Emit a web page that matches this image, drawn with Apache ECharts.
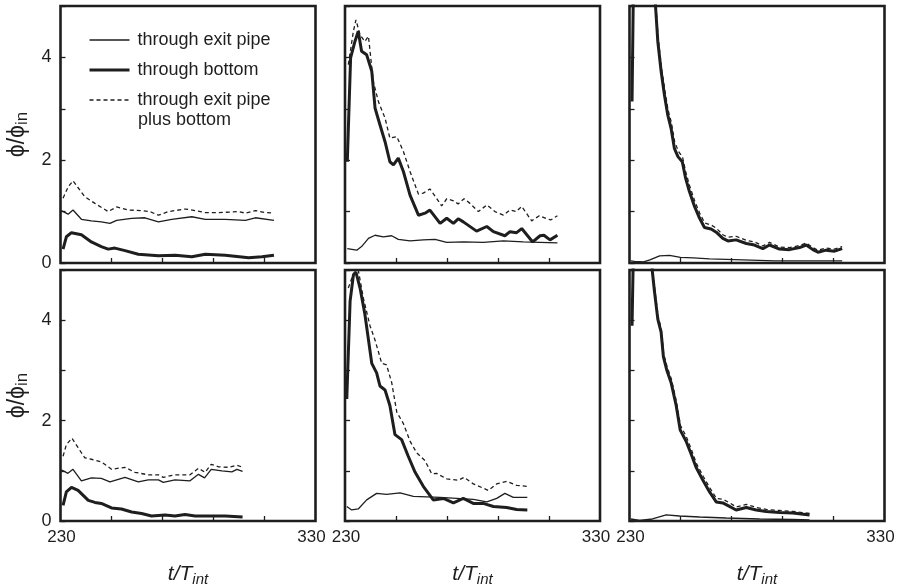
<!DOCTYPE html>
<html><head><meta charset="utf-8">
<script src="https://cdn.jsdelivr.net/npm/echarts@6/dist/echarts.min.js"></script>
<style>html,body{margin:0;padding:0;background:#fff}#c{width:898px;height:588px}</style>
</head><body><div id="c"></div>
<script>
// ---- tick / label values ----
const xTickValues = [250, 270, 290, 310];
const xLabelValues = [230, 330];
const yLabelValues = [0, 2, 4];
const seriesNames = ['through exit pipe', 'through bottom', 'through exit pipe plus bottom'];

// ---- top-left panel ----
const exitA1 = [[230.3,1.02],[233,0.95],[234.9,1.03],[238.2,0.85],[242.1,0.82],[246,0.80],[249.4,0.77],[252,0.83],[257.9,0.87],[263.1,0.88],[268.4,0.80],[273.6,0.85],[281.5,0.90],[286.8,0.85],[294.6,0.85],[302.5,0.83],[306.4,0.88],[313.7,0.83]];
const bottomA1 = [[231,0.27],[232.3,0.51],[234.3,0.59],[238.2,0.55],[242.1,0.41],[246,0.32],[248.7,0.27],[251.3,0.29],[255.3,0.24],[260.5,0.17],[268.4,0.14],[275,0.15],[281.5,0.12],[286.8,0.17],[294.6,0.15],[303.8,0.10],[309,0.12],[313.7,0.15]];
const totalA1 = [[231,1.26],[233,1.48],[234.9,1.6],[239.5,1.29],[243.5,1.16],[248.7,1.0],[252,1.09],[256.6,1.03],[261.8,1.02],[265,1.0],[268.4,0.93],[272.3,1.0],[279,1.05],[282.8,1.02],[286.8,0.98],[292,0.98],[299.9,1.0],[302.5,0.97],[306.4,1.02],[310.4,0.98],[313.7,0.97]];

// ---- top-middle panel ----
const exitA2 = [[230.9,0.28],[234.6,0.25],[236.5,0.32],[239.2,0.48],[241.8,0.54],[245,0.51],[248.3,0.53],[250.9,0.46],[255.5,0.43],[260.7,0.45],[265.3,0.46],[269.9,0.40],[276.4,0.41],[284.2,0.40],[292.1,0.43],[299.9,0.41],[306.5,0.40],[313.3,0.39]];
const bottomA2 = [[230.9,1.97],[232.2,3.99],[233.9,4.31],[235.2,4.51],[236.5,4.12],[238.5,4.05],[240.5,3.73],[241.8,3.01],[243.7,2.69],[245.7,2.36],[247.6,1.97],[249,1.91],[250.9,2.04],[252.9,1.78],[255.5,1.32],[258.8,0.93],[261.4,0.97],[263.3,1.03],[267.3,0.77],[269.9,0.87],[272.5,0.77],[274.4,0.86],[276.4,0.80],[281.6,0.62],[285.6,0.71],[288.2,0.61],[292.7,0.53],[294.7,0.61],[297.3,0.59],[299.3,0.67],[303.6,0.41],[306.5,0.53],[308,0.54],[310.4,0.45],[313.3,0.54]];
const totalA2 = [[231.3,3.86],[233.3,4.51],[234.3,4.73],[235.9,4.44],[237.8,4.31],[239.2,4.41],[241.1,3.53],[243.1,3.14],[245.7,2.82],[247.6,2.43],[250.3,2.46],[252.9,2.17],[255.5,1.78],[258.8,1.34],[260.7,1.36],[263.3,1.44],[265.9,1.26],[267.9,1.11],[269.9,1.25],[272.5,1.21],[274.4,1.15],[276.7,1.25],[279,1.16],[282.3,1.00],[285.6,1.13],[288.8,1.00],[292.1,0.93],[294.7,1.03],[297.1,1.00],[299.3,1.10],[303.2,0.82],[306.2,0.92],[309.1,0.86],[310.8,0.84],[313.3,0.92]];

// ---- top-right panel ----
const exitA3 = [[230.5,0.04],[232,0.03],[235.5,0.02],[238,0.06],[241.8,0.14],[245.7,0.15],[250,0.11],[255,0.10],[261.4,0.08],[274.4,0.06],[287,0.04],[300,0.04],[313.4,0.04]];
const bottomA3 = [[231,3.14],[231.8,6.5],[234,8.2],[237,7.6],[240.2,5.0],[241.1,4.31],[242.4,3.73],[243.7,3.27],[245,2.88],[246.3,2.62],[247.6,2.23],[249,2.07],[250.7,1.97],[252,1.65],[253.5,1.39],[255.5,1.10],[257.5,0.87],[259.4,0.69],[262,0.66],[264,0.60],[266.6,0.48],[268.6,0.43],[271.8,0.45],[275.8,0.38],[279,0.35],[282.3,0.28],[284.9,0.35],[288.8,0.27],[292.7,0.26],[296.7,0.30],[299.3,0.35],[301.9,0.26],[303.9,0.21],[307.1,0.25],[310.4,0.23],[313.4,0.28]];
const totalA3 = [[231,3.2],[231.8,6.6],[234,8.3],[237,7.7],[240.4,5.0],[241.2,4.4],[242.5,3.82],[243.8,3.38],[245.1,2.98],[246.4,2.74],[247.7,2.36],[249.1,2.18],[250.8,2.06],[252.1,1.76],[253.6,1.50],[255.6,1.20],[257.6,0.96],[259.5,0.78],[262,0.74],[264,0.68],[266.6,0.55],[268.6,0.50],[271.8,0.52],[275.8,0.44],[279,0.41],[282.3,0.33],[284.9,0.40],[288.8,0.31],[292.7,0.30],[296.7,0.34],[299.3,0.39],[301.9,0.30],[303.9,0.25],[307.1,0.29],[310.4,0.27],[313.4,0.32]];

// ---- bottom-left panel ----
const exitB1 = [[230.3,1.02],[232.9,0.95],[234.9,1.03],[238.2,0.80],[242.1,0.86],[246,0.85],[249.4,0.78],[255.3,0.87],[260.5,0.78],[264.4,0.82],[268.4,0.82],[270.3,0.77],[274.9,0.82],[280.8,0.80],[284.1,0.93],[286.5,0.86],[289.1,1.03],[293.3,1.0],[297.2,0.98],[299.2,1.03],[301.4,0.99]];
const bottomB1 = [[231,0.31],[232.3,0.58],[234.3,0.67],[236.9,0.61],[240.9,0.41],[243.5,0.37],[246,0.35],[250,0.26],[253.9,0.24],[257.9,0.18],[261.8,0.15],[265.7,0.10],[271,0.12],[274.9,0.10],[278.8,0.13],[282.8,0.10],[288,0.10],[294.6,0.10],[301.4,0.08]];
const totalB1 = [[231,1.29],[232.3,1.52],[234.5,1.65],[236.9,1.46],[239.5,1.26],[242.1,1.23],[246,1.18],[250,1.03],[255.3,1.07],[259.2,0.97],[264.4,0.92],[268.4,0.92],[270.3,0.87],[274.9,0.92],[280.8,0.92],[284.1,1.05],[286.7,0.97],[289.1,1.13],[292,1.08],[295.9,1.07],[299.2,1.11],[301.4,1.07]];

// ---- bottom-middle panel ----
const exitB2 = [[230.7,0.29],[232.6,0.22],[235.2,0.24],[238.5,0.42],[242.4,0.55],[246.3,0.53],[251.6,0.56],[256.8,0.49],[262,0.48],[267.3,0.47],[273.8,0.45],[280.3,0.43],[285.6,0.38],[289.5,0.45],[292.7,0.55],[296,0.47],[301.5,0.47]];
const bottomB2 = [[230.7,2.43],[232,4.38],[233.3,4.9],[234.3,4.96],[235.9,4.64],[237.8,4.12],[240.5,3.14],[242.4,2.95],[243.7,2.69],[245.7,2.61],[247.6,2.30],[249.6,1.72],[252.2,1.62],[254.8,1.29],[257.5,0.97],[260.7,0.69],[264.6,0.42],[268.6,0.45],[272.5,0.36],[276.4,0.45],[280.3,0.35],[284.2,0.35],[288.2,0.29],[293.4,0.27],[297.3,0.23],[301.5,0.22]];
const totalB2 = [[231.3,4.64],[233.3,4.93],[235.2,5.0],[237.2,4.44],[239.8,3.89],[241.8,3.60],[244.4,3.14],[246.3,3.11],[248.3,2.76],[250.3,2.17],[252.9,1.94],[255.5,1.59],[258.1,1.36],[261.4,1.20],[264,0.94],[265.9,0.95],[269.9,0.84],[274.4,0.81],[276.7,0.87],[280.3,0.74],[286.2,0.61],[289.5,0.74],[293.4,0.79],[297.3,0.71],[301.5,0.69]];

// ---- bottom-right panel ----
const exitB3 = [[230.5,0.04],[234,0.01],[239,0.04],[244.4,0.12],[249.6,0.10],[257.5,0.08],[267.9,0.06],[281,0.04],[294,0.03],[300.6,0.02]];
const bottomB3 = [[231,3.89],[231.8,6.2],[234,7.4],[237,6.3],[238.9,5.0],[239.8,4.57],[241.1,4.02],[242.4,3.76],[243.3,3.27],[244.6,3.01],[246.3,2.76],[248.3,2.30],[249.9,1.81],[252.2,1.59],[254.2,1.33],[256.1,1.07],[258.8,0.81],[261.4,0.58],[264,0.38],[266.6,0.36],[269.2,0.29],[271.8,0.22],[275.8,0.27],[279.7,0.22],[283.6,0.19],[288.8,0.17],[294.1,0.16],[300.6,0.12]];
const totalB3 = [[231,3.95],[231.8,6.3],[234,7.5],[237,6.4],[239,5.0],[239.9,4.62],[241.2,4.08],[242.5,3.82],[243.4,3.33],[244.7,3.08],[246.4,2.83],[248.4,2.38],[250,1.90],[252.3,1.68],[254.3,1.42],[256.2,1.15],[258.9,0.89],[261.5,0.66],[264.1,0.45],[266.7,0.43],[269.3,0.36],[271.9,0.28],[275.9,0.33],[279.8,0.27],[283.7,0.23],[288.9,0.21],[294.2,0.19],[300.6,0.15]];

const panels = [
  [exitA1, bottomA1, totalA1], [exitA2, bottomA2, totalA2], [exitA3, bottomA3, totalA3],
  [exitB1, bottomB1, totalB1], [exitB2, bottomB2, totalB2], [exitB3, bottomB3, totalB3]
];

const INK = '#1e1e1e';
const FONT = 'Liberation Sans, Arial, sans-serif';
const colLeft = [60.5, 345, 629.5];
const rowTop = [6, 270];
const rowH = [257, 256];
const W = 255;

const grids = [], xAxes = [], yAxes = [], series = [];
const lineStyles = [
  {width: 1.3, color: INK, type: 'solid'},
  {width: 3, color: INK, type: 'solid'},
  {width: 1.3, color: INK, type: [4, 3]}
];

panels.forEach((p, i) => {
  const r = Math.floor(i / 3), c = i % 3;
  grids.push({left: colLeft[c], top: rowTop[r], width: W, height: rowH[r], show: true,
    borderWidth: 2.6, borderColor: INK, backgroundColor: 'transparent', containLabel: false});
  xAxes.push({
    type: 'value', gridIndex: i, min: 230, max: 330,
    axisLine: {show: false},
    splitLine: {show: false},
    axisTick: {show: true, inside: true, length: 5, customValues: xTickValues, lineStyle: {color: INK, width: 1.3}},
    axisLabel: {show: r === 1, customValues: xLabelValues, color: INK, fontSize: 17, fontFamily: FONT, margin: 8,
      formatter: v => v === 330 ? '{r|330}' : '{l|' + v + '}',
      rich: {r: {fontSize: 17, fontFamily: FONT, color: INK, padding: [0, 8, 0, 0]},
             l: {fontSize: 17, fontFamily: FONT, color: INK, padding: [0, 0, 0, 2]}}},
    name: r === 1 ? '{i|t/T}{s|int}' : '',
    nameLocation: 'middle', nameGap: 41,
    nameTextStyle: {rich: {
      i: {fontStyle: 'italic', fontSize: 21, fontFamily: FONT, color: INK},
      s: {fontStyle: 'italic', fontSize: 15, fontFamily: FONT, color: INK, padding: [10, 0, 0, 0]}
    }}
  });
  yAxes.push({
    type: 'value', gridIndex: i, min: 0, max: 5, interval: 1,
    axisLine: {show: false},
    splitLine: {show: false},
    axisTick: {show: true, inside: true, length: 5, lineStyle: {color: INK, width: 1.3}},
    axisLabel: {show: c === 0, customValues: yLabelValues, color: INK, fontSize: 18, fontFamily: FONT, margin: 9},
    name: c === 0 ? '{p|ϕ/ϕ}{s|in}' : '',
    nameLocation: 'middle', nameGap: 30,
    nameTextStyle: {rich: {
      p: {fontSize: 23, fontFamily: FONT, color: INK},
      s: {fontSize: 17, fontFamily: FONT, color: INK, padding: [9, 0, 0, 0]}
    }}
  });
  p.forEach((d, k) => {
    series.push({
      type: 'line', name: seriesNames[k], xAxisIndex: i, yAxisIndex: i,
      data: d, symbol: 'none', showSymbol: false, clip: true, z: 3 - k,
      lineStyle: lineStyles[k], itemStyle: {color: INK}
    });
  });
});

const chart = echarts.init(document.getElementById('c'), null, {renderer: 'canvas'});
chart.setOption({
  animation: false,
  backgroundColor: '#fff',
  textStyle: {fontFamily: FONT},
  grid: grids, xAxis: xAxes, yAxis: yAxes, series: series,
  legend: {
    data: seriesNames.map((n, k) => ({name: n, lineStyle: {width: lineStyles[k].width, type: lineStyles[k].type, color: INK}})),
    orient: 'vertical', left: 88, top: 30, padding: 0,
    itemWidth: 40, itemHeight: 14, itemGap: 10, selectedMode: false,
    itemStyle: {color: 'rgba(0,0,0,0)', borderWidth: 0, opacity: 0},
    formatter: n => n === 'through exit pipe plus bottom' ? 'through exit pipe' : n,
    textStyle: {fontSize: 18, lineHeight: 20, color: INK, fontFamily: FONT, padding: [0, 0, 0, 3]}
  },
  graphic: [{
    type: 'text', x: 138, y: 120,
    style: {text: 'plus bottom', fill: INK, font: '18px ' + FONT, verticalAlign: 'middle'}
  }]
});
</script></body></html>
